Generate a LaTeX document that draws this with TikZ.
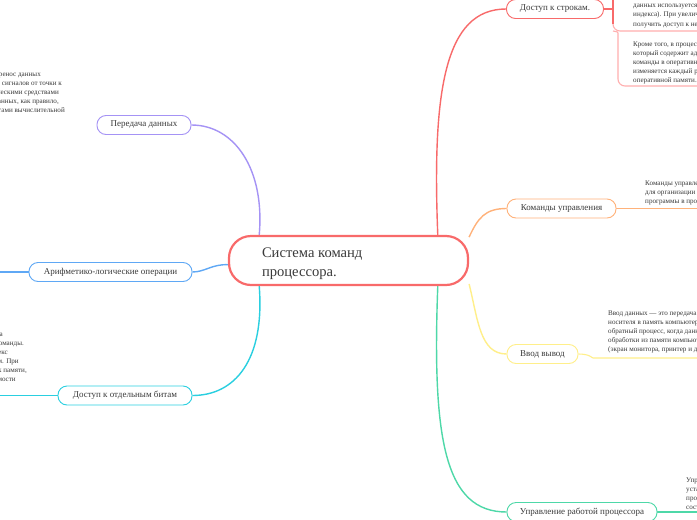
\documentclass[tikz,border=0pt]{standalone}
\usepackage{fontspec}
\setmainfont{Liberation Serif}
\usetikzlibrary{backgrounds}
\definecolor{cred}{HTML}{F86A6A}
\definecolor{cpink}{HTML}{FFAFAF}
\definecolor{corange}{HTML}{FFB27A}
\definecolor{cyellow}{HTML}{FFEF8A}
\definecolor{cgreen}{HTML}{4ED8A8}
\definecolor{cpurple}{HTML}{A593F5}
\definecolor{cblue}{HTML}{5FA8F5}
\definecolor{ccyan}{HTML}{2ACFE0}
\definecolor{textc}{HTML}{3A3A3A}
\begin{document}
\begin{tikzpicture}[x=1pt,y=-1pt,
  topic/.style={draw, fill=white, rounded corners=9pt, line width=0.9pt,
    minimum height=19pt, inner sep=0pt, font=\fontsize{9}{10}\selectfont, text=textc},
  central/.style={draw=cred, fill=white, line width=2.2pt, rounded corners=22pt,
    minimum width=239pt, minimum height=49pt,
    inner xsep=33pt, inner ysep=0pt, font=\fontsize{14.6}{19}\selectfont, text=textc},
  conn/.style={line width=1.4pt},
  notebar/.style={line width=1.1pt, rounded corners=7pt},
  note/.style={font=\fontsize{7.1}{9}\selectfont, text=textc, inner sep=0pt, anchor=base west},
  lnote/.style={font=\fontsize{7.1}{9}\selectfont, text=textc, inner sep=0pt, anchor=base east},
]
\useasboundingbox (0,0) rectangle (697,520);
\clip (0,0) rectangle (697,520);

% central
\node[central] (c) at (348.5,260.5) {\makebox[173pt][l]{\raisebox{-3pt}[\height][\depth]{\begin{tabular}{@{}l@{}}Система команд\\процессора.\end{tabular}}}};

% topics
\node[topic, draw=cred, minimum width=97pt] (n1) at (555,9) {Доступ к строкам.};
\node[topic, draw=corange, minimum width=109pt] (n2) at (561.5,208.5) {Команды управления};
\node[topic, draw=cyellow, minimum width=71pt] (n3) at (542.5,354) {Ввод вывод};
\node[topic, draw=cgreen, minimum width=150pt] (n4) at (582,512) {Управление работой процессора};
\node[topic, draw=cpurple, minimum width=94pt] (n5) at (144,125) {Передача данных};
\node[topic, draw=cblue, minimum width=163pt] (n6) at (110.5,272) {Арифметико-логические операции};
\node[topic, draw=ccyan, minimum width=134pt] (n7) at (125,395.5) {Доступ к отдельным битам};

% free ends
\coordinate (r1) at (613,9);
\coordinate (r1top) at (613,-5);
\coordinate (b1end) at (700,31);
\coordinate (b2bot) at (700,86);
\coordinate (r2) at (700,208.5);
\coordinate (r3a) at (600,358);
\coordinate (r3) at (700,358);
\coordinate (r4) at (700,512);
\coordinate (l6) at (-5,272);
\coordinate (l7) at (-5,395.5);

\begin{scope}[on background layer]
  \fill[white] (0,0) rectangle (697,520);
  \draw[cred, conn] (c.16) .. controls (432,90) and (445,9) .. (n1.west);
  \draw[corange, conn] (c.11) .. controls (478,218) and (485,208.5) .. (n2.west);
  \draw[cyellow, conn] (c.-11) .. controls (478,320) and (480,354) .. (n3.west);
  \draw[cgreen, conn] (c.-16) .. controls (432,440) and (445,512) .. (n4.west);
  \draw[cpurple, conn] (c.164) .. controls (265,170) and (235,125) .. (n5.east);
  \draw[cblue, conn] (c.182) .. controls (212,264) and (205,272) .. (n6.east);
  \draw[ccyan, conn] (c.196) .. controls (265,360) and (235,395.5) .. (n7.east);

  % notes connectors
  \draw[cred, conn] (n1.east) -- (r1);
  \draw[cpink, notebar] (613,20) -- (613,31) -- (b1end);
  \draw[cred, line width=1.1pt] (r1top) -- (613,24);
  \draw[cpink, notebar] (613,31) .. controls (618,32) .. (618,40) -- (618,86) -- (b2bot);
  \draw[corange, notebar] (n2.east) -- (r2);
  \draw[cyellow, notebar] (n3.east) .. controls (590,354) and (592,358) .. (r3a) -- (r3);
  \draw[cgreen, notebar] (n4.east) -- (r4);
  \draw[cblue, conn] (n6.west) -- (l6);
  \draw[ccyan, conn] (n7.west) -- (l7);
\end{scope}

% right notes
\node[note] (t11) at (633,7) {данных используется индексный регистр};
\node[note] (t12) at (633,16.5) {индекса). При увеличении значения};
\node[note] (t13) at (633,26) {получить доступ к нему.};
\node[note] (t21) at (633,46) {Кроме того, в процессоре есть регистр,};
\node[note] (t22) at (633,55) {который содержит адрес следующей};
\node[note] (t23) at (633,64) {команды в оперативной памяти.};
\node[note] (t24) at (633,73) {изменяется каждый раз при выборке};
\node[note] (t25) at (633,82) {оперативной памяти.};

\node[note] (t31) at (645,185) {Команды управления используются};
\node[note] (t32) at (645,194) {для организации переходов в};
\node[note] (t33) at (645,203) {программы в процессе выполнения.};

\node[note] (t41) at (608,315) {Ввод данных — это передача информации};
\node[note] (t42) at (608,324) {носителя в память компьютера. Вывод};
\node[note] (t43) at (608,333) {обратный процесс, когда данные после};
\node[note] (t44) at (608,342) {обработки из памяти компьютера};
\node[note] (t45) at (608,351) {(экран монитора, принтер и др.).};

\node[note] (t51) at (686,482) {Управление};
\node[note] (t52) at (686,491) {установка};
\node[note] (t53) at (686,500) {процессора};
\node[note] (t54) at (686,509) {состояние};

% left notes
\node[lnote] (s1) at (41,76) {Передача данных — это перенос данных};
\node[lnote] (s2) at (62,85) {в виде сигналов от точки к};
\node[lnote] (s3) at (59,94) {другой техническими средствами};
\node[lnote] (s4) at (59,103) {Передача данных, как правило,};
\node[lnote] (s5) at (65,112) {между компонентами вычислительной};

\node[lnote] (u1) at (3,336) {нужна};
\node[lnote] (u2) at (24,345) {для выполнения команды.};
\node[lnote] (u3) at (8,354) {индекс};
\node[lnote] (u4) at (19,363) {с регистром. При};
\node[lnote] (u5) at (27,372) {доступ к памяти,};
\node[lnote] (u6) at (16,381) {значимости};
\end{tikzpicture}
\end{document}
